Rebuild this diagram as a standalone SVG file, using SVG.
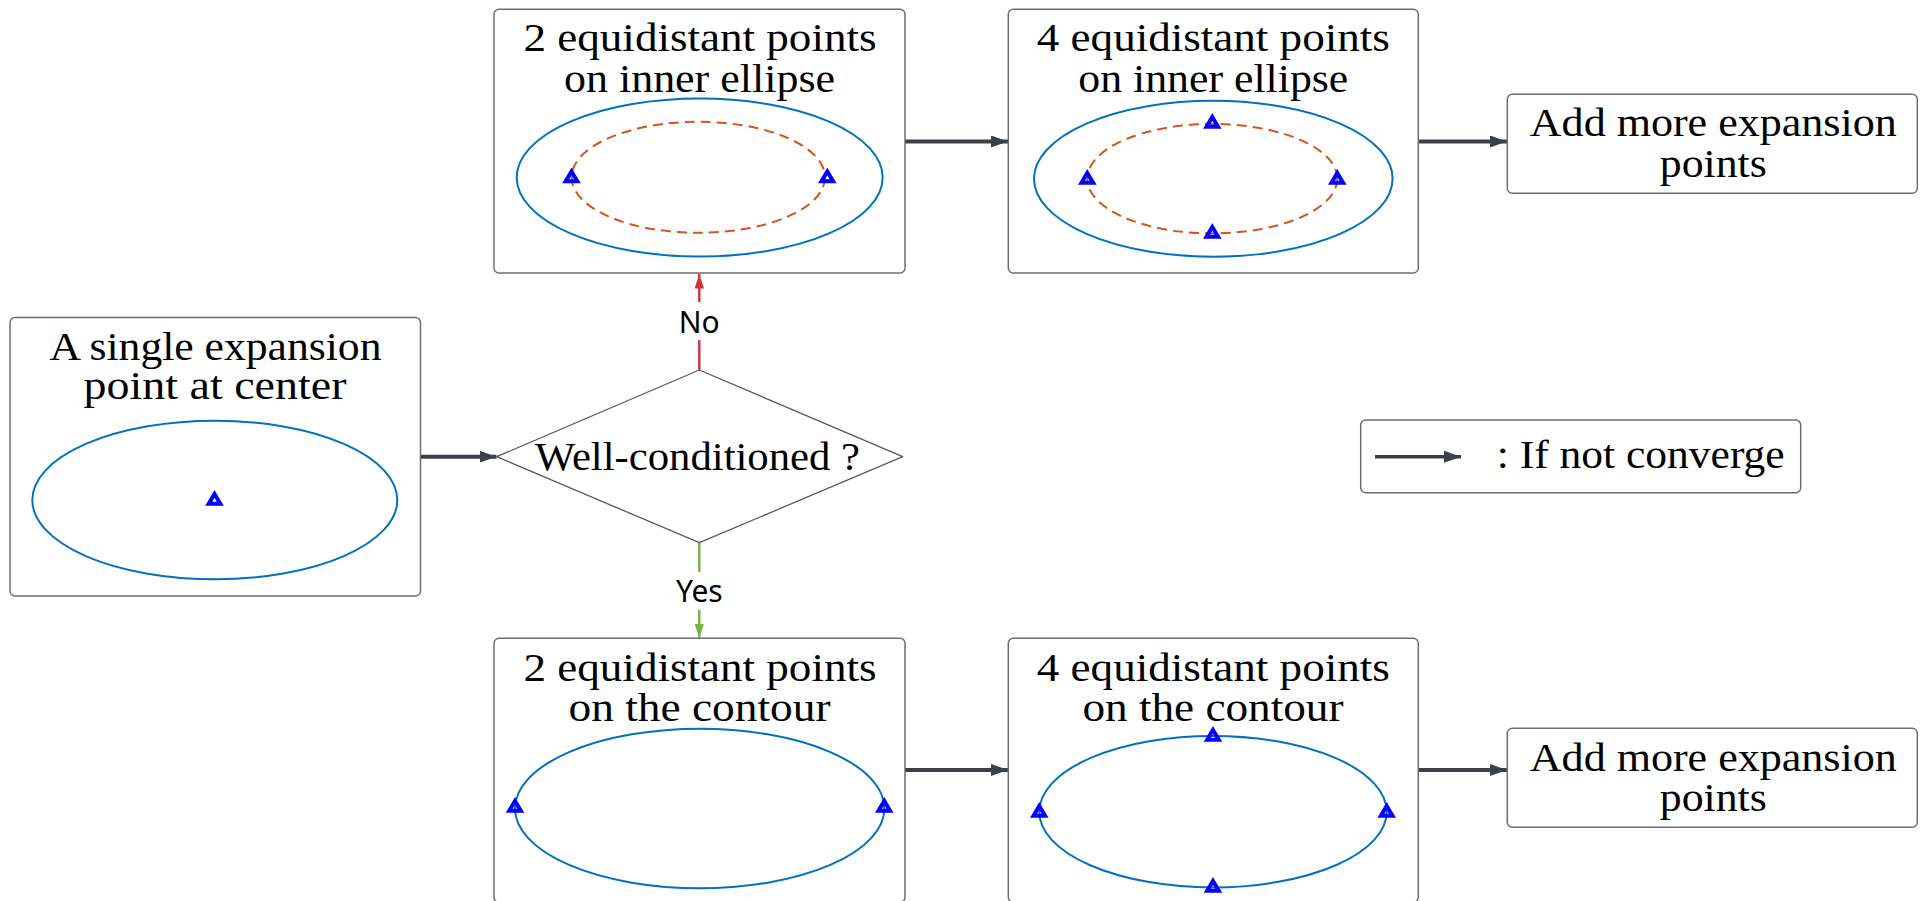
<svg xmlns="http://www.w3.org/2000/svg" width="1922" height="901" viewBox="0 0 1922 901">
<style>
.box{fill:#fff;stroke:#6b6f75;stroke-width:1.5}
.t{font-family:"Liberation Serif","Times New Roman",serif;font-size:40px;fill:#000;text-anchor:middle}
.lbl{font-family:"Noto Sans","Open Sans",sans-serif;font-size:30px;fill:#000;text-anchor:middle}
.ell{fill:none;stroke:#0072BD;stroke-width:2}
.dash{fill:none;stroke:#D95319;stroke-width:2;stroke-dasharray:10 6}
.tri{fill:none;stroke:#0000ff;stroke-width:4;stroke-linejoin:miter}
.conn{fill:none;stroke:#3b4048;stroke-width:4}
</style>
<defs>
<marker id="ah" markerUnits="userSpaceOnUse" markerWidth="18" markerHeight="13" refX="17" refY="6" orient="auto"><path d="M0,0 L17,6 L0,12 z" fill="#3b4048"/></marker>
<marker id="ahr" markerUnits="userSpaceOnUse" markerWidth="10" markerHeight="16" refX="15" refY="4.7" orient="auto"><path d="M0,0 L15,4.7 L0,9.4 z" fill="#d03040"/></marker>
<marker id="ahg" markerUnits="userSpaceOnUse" markerWidth="10" markerHeight="16" refX="15" refY="4.7" orient="auto"><path d="M0,0 L15,4.7 L0,9.4 z" fill="#77b244"/></marker>
<polygon id="tri" class="tri" points="0,-5 5.8,4.8 -5.8,4.8"/>
</defs>
<rect width="1922" height="901" fill="#fff"/>

<g id="connectors">
<line class="conn" x1="421" y1="456.7" x2="496.5" y2="456.7" marker-end="url(#ah)"/>
<line class="conn" x1="905" y1="141.5" x2="1008" y2="141.5" marker-end="url(#ah)"/>
<line class="conn" x1="1418" y1="141.5" x2="1507" y2="141.5" marker-end="url(#ah)"/>
<line class="conn" x1="905" y1="770" x2="1008" y2="770" marker-end="url(#ah)"/>
<line class="conn" x1="1418" y1="770" x2="1507" y2="770" marker-end="url(#ah)"/>
<line x1="699.3" y1="370" x2="699.3" y2="340" stroke="#d03040" stroke-width="2.4"/>
<line x1="699.3" y1="302" x2="699.3" y2="273.5" stroke="#d03040" stroke-width="2.4" marker-end="url(#ahr)"/>
<text class="lbl" x="699.3" y="333">No</text>
<line x1="699.3" y1="542.7" x2="699.3" y2="572" stroke="#77b244" stroke-width="2.4"/>
<line x1="699.3" y1="610" x2="699.3" y2="638.5" stroke="#77b244" stroke-width="2.4" marker-end="url(#ahg)"/>
<text class="lbl" x="699.3" y="602">Yes</text>
</g>

<g id="node-single">
<rect class="box" x="10" y="317.5" width="410.5" height="278.5" rx="5"/>
<text class="t" x="215.5" y="360" textLength="332" lengthAdjust="spacingAndGlyphs">A single expansion</text>
<text class="t" x="215" y="399" textLength="263" lengthAdjust="spacingAndGlyphs">point at center</text>
<ellipse class="ell" cx="214.8" cy="500" rx="182.5" ry="79.3"/>
<use href="#tri" x="214.5" y="499"/>
</g>

<g id="node-decision">
<polygon points="699.3,370 902.7,456.7 699.3,542.7 496.7,456.7" fill="#fff" stroke="#555a60" stroke-width="1.3" stroke-linejoin="round"/>
<text class="t" x="697.5" y="469.5" textLength="325" lengthAdjust="spacingAndGlyphs">Well-conditioned ?</text>
</g>

<g id="node-2inner">
<rect class="box" x="494" y="9.3" width="411" height="263.7" rx="5"/>
<text class="t" x="700" y="51" textLength="353" lengthAdjust="spacingAndGlyphs">2 equidistant points</text>
<text class="t" x="699.5" y="92" textLength="271" lengthAdjust="spacingAndGlyphs">on inner ellipse</text>
<ellipse class="ell" cx="699.7" cy="177.5" rx="183" ry="79"/>
<ellipse class="dash" cx="698.3" cy="177.3" rx="126.7" ry="55.5"/>
<use href="#tri" x="571.5" y="176.5"/>
<use href="#tri" x="827.3" y="176.5"/>
</g>

<g id="node-4inner">
<rect class="box" x="1008.3" y="9.3" width="410" height="263.7" rx="5"/>
<text class="t" x="1213.3" y="51" textLength="353" lengthAdjust="spacingAndGlyphs">4 equidistant points</text>
<text class="t" x="1213.3" y="92" textLength="270" lengthAdjust="spacingAndGlyphs">on inner ellipse</text>
<ellipse class="ell" cx="1213.3" cy="178.7" rx="179.3" ry="78"/>
<ellipse class="dash" cx="1212.3" cy="178.7" rx="125" ry="54.7"/>
<use href="#tri" x="1087.3" y="178"/>
<use href="#tri" x="1337.3" y="178"/>
<use href="#tri" x="1212.3" y="122"/>
<use href="#tri" x="1212.3" y="232"/>
</g>

<g id="node-more-top">
<rect class="box" x="1507.3" y="94.3" width="410" height="99" rx="5"/>
<text class="t" x="1713.3" y="136" textLength="367" lengthAdjust="spacingAndGlyphs">Add more expansion</text>
<text class="t" x="1713.3" y="176.7" textLength="107" lengthAdjust="spacingAndGlyphs">points</text>
</g>

<g id="node-2contour">
<rect class="box" x="494" y="638.3" width="411" height="264" rx="5"/>
<text class="t" x="700" y="680.7" textLength="353" lengthAdjust="spacingAndGlyphs">2 equidistant points</text>
<text class="t" x="699.5" y="720.7" textLength="262" lengthAdjust="spacingAndGlyphs">on the contour</text>
<ellipse class="ell" cx="699.7" cy="808.5" rx="184.7" ry="79.8"/>
<use href="#tri" x="515" y="806"/>
<use href="#tri" x="884.3" y="806"/>
</g>

<g id="node-4contour">
<rect class="box" x="1008.3" y="638.3" width="410" height="264" rx="5"/>
<text class="t" x="1213.3" y="680.7" textLength="353" lengthAdjust="spacingAndGlyphs">4 equidistant points</text>
<text class="t" x="1213" y="720.7" textLength="261" lengthAdjust="spacingAndGlyphs">on the contour</text>
<ellipse class="ell" cx="1213" cy="811.7" rx="173.7" ry="75.7"/>
<use href="#tri" x="1039.3" y="811"/>
<use href="#tri" x="1386.7" y="811"/>
<use href="#tri" x="1213" y="735"/>
<use href="#tri" x="1213" y="886"/>
</g>

<g id="node-more-bottom">
<rect class="box" x="1507.3" y="728.3" width="410" height="99" rx="5"/>
<text class="t" x="1713.3" y="770.7" textLength="367" lengthAdjust="spacingAndGlyphs">Add more expansion</text>
<text class="t" x="1713.3" y="810.7" textLength="107" lengthAdjust="spacingAndGlyphs">points</text>
</g>

<g id="legend">
<rect class="box" x="1360.7" y="420" width="440" height="72.7" rx="5"/>
<line x1="1375" y1="456.7" x2="1461" y2="456.7" stroke="#3b4048" stroke-width="3.5" marker-end="url(#ah)"/>
<text class="t" x="1496.7" y="468.3" style="text-anchor:start" textLength="288" lengthAdjust="spacingAndGlyphs">: If not converge</text>
</g>
</svg>
